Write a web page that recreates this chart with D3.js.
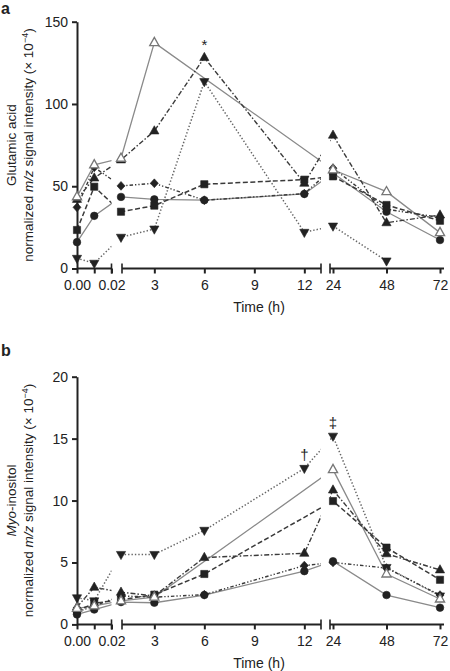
<!DOCTYPE html>
<html><head><meta charset="utf-8">
<script src="https://cdn.jsdelivr.net/npm/d3@7"></script>
<style>
body{margin:0;background:#fff;}
svg text{font-family:"Liberation Sans",Arial,Helvetica,sans-serif;fill:#222;}
</style></head><body>
<svg id="chart" width="450" height="671"></svg>
<script>
// ---------------- data ----------------
const times = [0, 0.01, 1, 3, 6, 12, 24, 48, 72];

// Panel a: glutamic acid (x 10^-4)
const gluCircle  = [16, 32, 43.5, 42, 41.5, 45.3, 58, 34.5, 17.3];
const gluSquare  = [23.4, 49.7, 34.5, 38.2, 51.2, 54, 56, 38.6, 29];
const gluTriUp   = [42, 55, 66, 83.6, 128.2, 51.8, 81, 27.8, 32.5];
const gluTriDown = [6.2, 3.2, 19, 24, 113.6, 22, 25.8, 4.6, null];
const gluDiamond = [37.2, 61.5, 50.2, 51.8, 41.5, 45.5, 61, 36, 31];
const gluOpenTri = [43.6, 63, 67, 137.3, null, null, 60, 46.7, 21.8];

// Panel b: myo-inositol (x 10^-4)
const myoCircle  = [0.8, 1.2, 1.8, 1.75, 2.37, 4.3, 5.1, 2.37, 1.35];
const myoSquare  = [1.1, 1.7, 2.0, 2.4, 4.07, null, 9.96, 6.2, 3.6];
const myoTriUp   = [1.4, 3.0, 2.6, 2.3, 5.4, 5.74, 10.85, 5.7, 4.4];
const myoTriDown = [2.15, 1.9, 5.65, 5.65, 7.6, 12.6, 15.2, 4.6, 2.3];
const myoDiamond = [1.0, 1.5, 2.3, 2.2, 2.4, 4.75, 5.0, 4.55, 2.37];
const myoOpenTri = [1.3, 1.5, 1.9, 2.2, null, null, 12.5, 4.07, 2.05];

const yTicksA = [0, 50, 100, 150];
const yTicksB = [0, 5, 10, 15, 20];
const xTicksSeg1 = [0, 0.01, 0.02];
const xTickLabelsSeg1 = ["0.00", "", "0.02"];
const xTicksSeg2 = [3, 6, 9, 12];
const xTicksSeg3 = [24, 48, 72];
const xSegDomains = [[0, 0.02], [1, 13], [24, 72]];

// annotations: [time, value, symbol]
const gluMarks = [[6, 128.2, "*"]];
const myoMarks = [[12, 12.6, "†"], [24, 15.2, "‡"]];

// ---------------- styles ----------------
const styles = {
  circle:  {stroke:"#8a8a8a", dash:null, width:1.3, shape:"circle"},
  square:  {stroke:"#3a3a3a", dash:"5,2.5", width:1.5, shape:"square"},
  triUp:   {stroke:"#3a3a3a", dash:"5,2,1.5,2", width:1.4, shape:"triUp"},
  triDown: {stroke:"#666", dash:"1.4,2", width:1.5, shape:"triDown"},
  diamond: {stroke:"#3a3a3a", dash:"3.5,2,1.3,2,1.3,2", width:1.4, shape:"diamond"},
  openTri: {stroke:"#8a8a8a", dash:null, width:1.3, shape:"openTri"}
};
const lineOrder = ["circle","openTri","square","triUp","triDown","diamond"];
const markerOrder = ["triDown","circle","square","triUp","diamond","openTri"];

function shapePath(s){
  switch(s){
    case "circle": return d3.symbol(d3.symbolCircle, Math.PI*3.8*3.8)();
    case "square": return "M-3.6,-3.6H3.6V3.6H-3.6Z";
    case "triUp": case "openTri": return "M0,-5.2L4.6,3L-4.6,3Z";
    case "triDown": return "M0,5.2L4.6,-3L-4.6,-3Z";
    case "diamond": return "M0,-4.4L4,0L0,4.4L-4,0Z";
  }
}

const svg = d3.select("#chart");
const xRanges = [[77, 111.5], [121, 321], [333, 440]];
const axisExtents = [[77, 111.5], [122, 321], [330, 444]];
const xs = xSegDomains.map((d,i)=>d3.scaleLinear().domain(d).range(xRanges[i]));
function px(t){ return t <= 0.02 ? xs[0](t) : (t <= 13 ? xs[1](t) : xs[2](t)); }

function panel(cfg){
  const g = svg.append("g");
  const y = d3.scaleLinear().domain(cfg.yDomain).range([cfg.y0, cfg.y1]);
  const clipId = "clip"+cfg.id;
  const cp = svg.append("defs").append("clipPath").attr("id", clipId);
  [[60,111.5],[121,321],[330,450]].forEach(r=>{
    cp.append("rect").attr("x", r[0]).attr("y", cfg.y1-20).attr("width", r[1]-r[0]).attr("height", cfg.y0-cfg.y1+40);
  });

  // lines
  const lg = g.append("g").attr("clip-path", `url(#${clipId})`);
  const line = d3.line().x(d=>px(d[0])).y(d=>y(d[1]));
  lineOrder.forEach(k=>{
    const pts = times.map((t,i)=>[t, cfg.series[k][i]]).filter(d=>d[1]!=null);
    const st = styles[k];
    lg.append("path").attr("d", line(pts)).attr("fill","none")
      .attr("stroke", st.stroke).attr("stroke-width", st.width)
      .attr("stroke-dasharray", st.dash);
  });

  // axes
  const yAxis = d3.axisLeft(y).tickValues(cfg.yTicks).tickSize(5).tickSizeOuter(0).tickPadding(4);
  const ya = g.append("g").attr("transform", `translate(77,0)`).call(yAxis);
  ya.select(".domain").attr("stroke","#222").attr("stroke-width",2);
  ya.selectAll(".tick line").attr("stroke","#222").attr("stroke-width",2);
  ya.selectAll(".tick text").style("font-size","14px").attr("fill","#222");

  const segTicks = [xTicksSeg1, xTicksSeg2, xTicksSeg3];
  xs.forEach((sc,i)=>{
    const ax = d3.axisBottom(sc).tickValues(segTicks[i]).tickSize(5).tickSizeOuter(0).tickPadding(6.5)
      .tickFormat(i===0 ? ((d,j)=>xTickLabelsSeg1[j]) : d3.format("d"));
    const ga = g.append("g").attr("transform", `translate(0,${cfg.y0})`).call(ax);
    ga.select(".domain").remove();
    ga.append("line").attr("x1", axisExtents[i][0]).attr("x2", axisExtents[i][1])
      .attr("stroke","#222").attr("stroke-width",2);
    ga.selectAll(".tick line").attr("stroke","#222").attr("stroke-width",2);
    ga.selectAll(".tick text").style("font-size","14px").attr("fill","#222");
    const ends = i===0 ? [axisExtents[i][1]] : (i===2 ? [axisExtents[i][0]] : [axisExtents[i][0], axisExtents[i][1]]);
    ends.forEach(xv=>{
      ga.append("line").attr("x1",xv).attr("x2",xv).attr("y1",-5).attr("y2",5)
        .attr("stroke","#222").attr("stroke-width",1.6);
    });
  });

  // markers
  const mg = g.append("g");
  markerOrder.forEach(k=>{
    const st = styles[k];
    times.forEach((t,i)=>{
      const v = cfg.series[k][i];
      if (v==null) return;
      mg.append("path").attr("d", shapePath(st.shape))
        .attr("transform", `translate(${px(t)},${y(v)})`)
        .attr("fill", k==="openTri" ? "#fff" : "#222")
        .attr("stroke", k==="openTri" ? "#777" : "#222")
        .attr("stroke-width", k==="openTri" ? 1.3 : 0.6);
    });
  });

  // annotations
  cfg.marks.forEach(m=>{
    g.append("text").attr("x", px(m[0])).attr("y", y(m[1]) - cfg.markOffset)
      .attr("text-anchor","middle").style("font-size","15px").text(m[2]);
  });

  // titles
  g.append("text").attr("x", 259).attr("y", cfg.y0 + 43.5).attr("text-anchor","middle")
    .style("font-size","14px").text("Time (h)");
  const cy = (cfg.y0 + cfg.y1)/2;
  const t1 = g.append("text").attr("transform", `translate(16,${cy}) rotate(-90)`)
    .attr("text-anchor","middle").style("font-size","13.5px");
  cfg.title1(t1);
  const t2 = g.append("text").attr("transform", `translate(33,${cy}) rotate(-90)`)
    .attr("text-anchor","middle").style("font-size","13.5px");
  t2.append("tspan").text("normalized ");
  t2.append("tspan").style("font-style","italic").text("m/z");
  t2.append("tspan").text(" signal intensity (× 10");
  t2.append("tspan").attr("baseline-shift","super").style("font-size","9px").text("−4");
  t2.append("tspan").text(")");

  g.append("text").attr("x", 1).attr("y", cfg.letterY).style("font-size","16px")
    .style("font-weight","bold").text(cfg.letter);
}

panel({
  id:"a", yDomain:[0,150], y0:268.5, y1:21.7, yTicks:yTicksA, letter:"a", letterY:14,
  series:{circle:gluCircle, square:gluSquare, triUp:gluTriUp, triDown:gluTriDown, diamond:gluDiamond, openTri:gluOpenTri},
  marks:gluMarks, markOffset:8,
  title1: t=>t.text("Glutamic acid")
});
panel({
  id:"b", yDomain:[0,20], y0:624.4, y1:376.7, yTicks:yTicksB, letter:"b", letterY:356,
  series:{circle:myoCircle, square:myoSquare, triUp:myoTriUp, triDown:myoTriDown, diamond:myoDiamond, openTri:myoOpenTri},
  marks:myoMarks, markOffset:8,
  title1: t=>{ t.append("tspan").style("font-style","italic").text("Myo"); t.append("tspan").text("-inositol"); }
});
</script>
</body></html>
